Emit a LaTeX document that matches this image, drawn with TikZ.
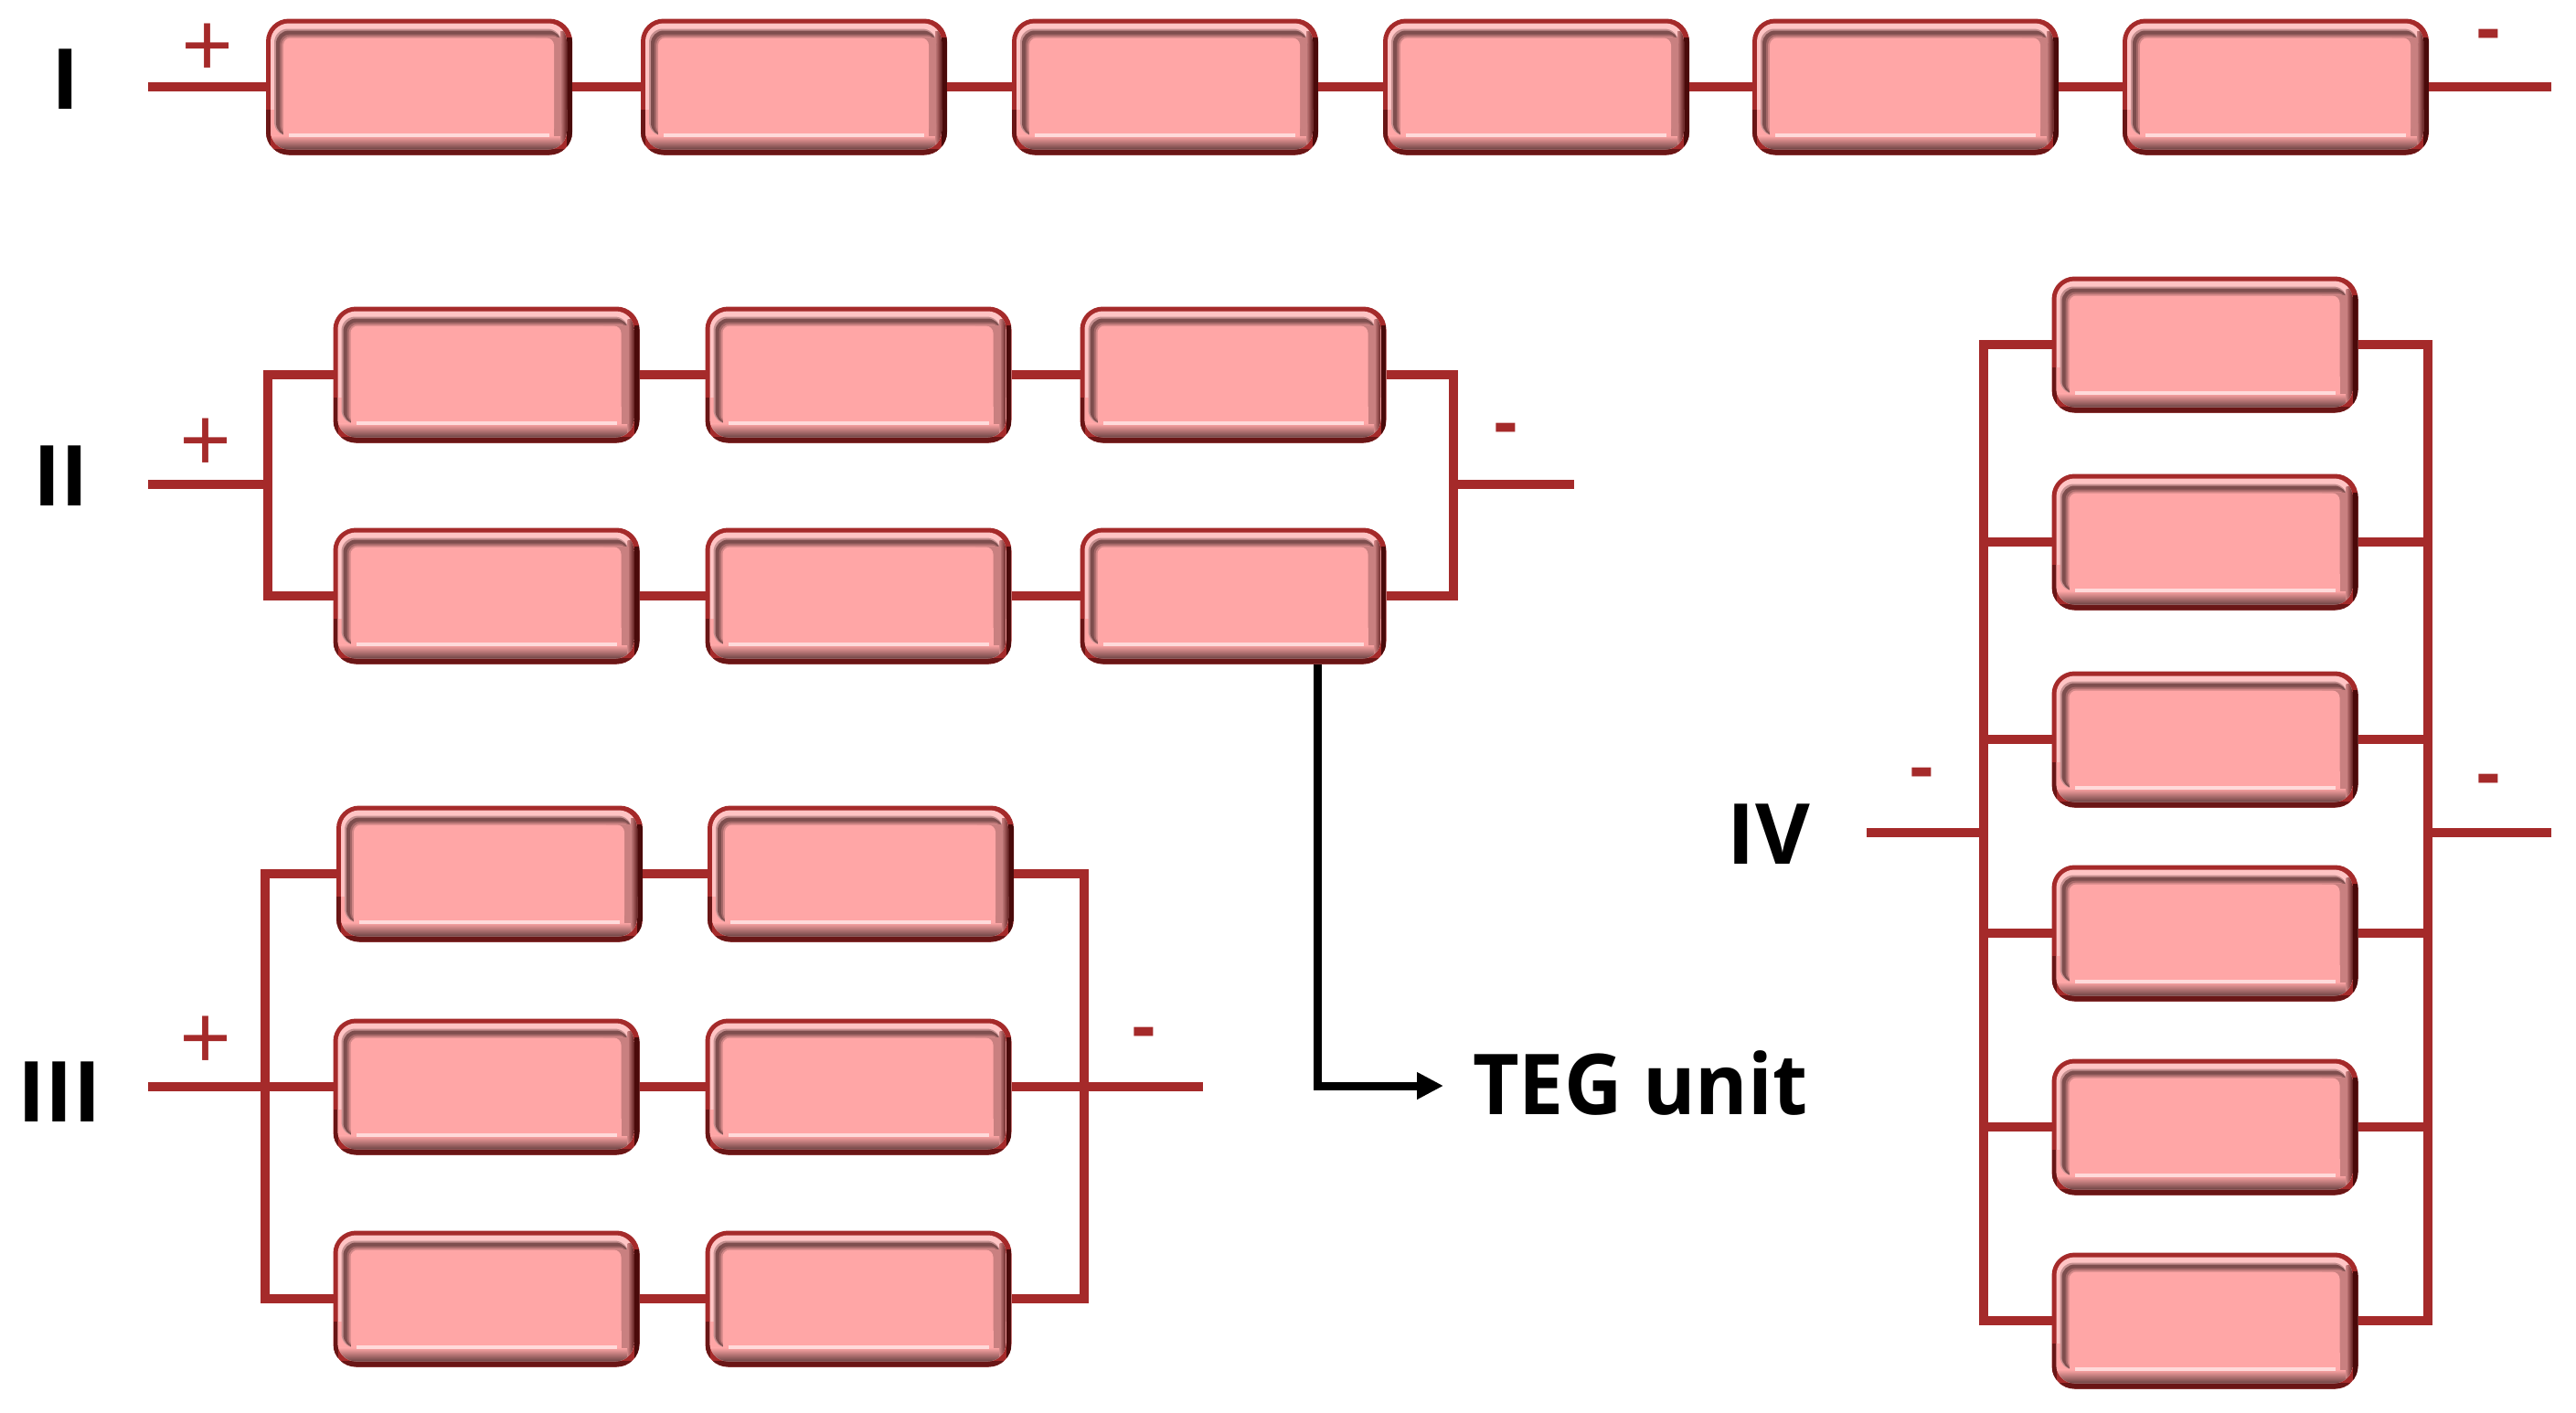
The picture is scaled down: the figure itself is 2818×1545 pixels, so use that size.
\documentclass[tikz,border=0pt]{standalone}
\usepackage{fontspec}
\setmainfont{Open Sans}
\usetikzlibrary{arrows.meta}
\definecolor{wirec}{HTML}{A52A2A}
\definecolor{bodyc}{HTML}{FFA6A6}
\definecolor{ringc}{HTML}{FFC4C4}
\definecolor{darkc}{HTML}{7E4E4E}
\definecolor{sidec}{HTML}{C98080}
\definecolor{hilic}{HTML}{FFDADA}
\definecolor{edgec}{HTML}{4A0A0A}
\definecolor{edged}{HTML}{6A1616}
\newcommand{\tegNW}[2]{([xshift=#1pt,yshift=-#2pt]path picture bounding box.north west)}
\newcommand{\tegSE}[2]{([xshift=-#1pt,yshift=#2pt]path picture bounding box.south east)}
\newcommand{\tegfill}[6]{\fill[#1,rounded corners=#6pt] \tegNW{#2}{#3} rectangle \tegSE{#4}{#5};}
\tikzset{
  tegunit/.style={minimum width=335pt,minimum height=149pt,inner sep=0pt,outer sep=0pt,
    rounded corners=25pt,fill=wirec,path picture={
     \begin{scope}[sharp corners]
      % outer edge: dark on the right and the bottom
      \fill[edged] ([yshift=7pt]path picture bounding box.south west) rectangle (path picture bounding box.south east);
      \fill[edgec] ([xshift=-6pt,yshift=-20pt]path picture bounding box.north east) rectangle (path picture bounding box.south east);
      \fill[edged] ([yshift=50pt]path picture bounding box.south west) rectangle ([xshift=5pt]path picture bounding box.south west);
      % light ring with the shaded lower band and right band, kept inside its rounded outline
      \begin{scope}
        \clip[rounded corners=20pt] \tegNW{5}{5} rectangle \tegSE{6}{6};
        \fill[ringc] \tegNW{0}{0} rectangle \tegSE{0}{0};
        \fill[bodyc] ([yshift=50pt]path picture bounding box.south west) rectangle ([yshift=20pt]path picture bounding box.south east);
        \shade[top color=bodyc,bottom color=darkc!85!black]
          ([yshift=21pt]path picture bounding box.south west) rectangle ([yshift=6pt]path picture bounding box.south east);
        \shade[left color=sidec,right color=edgec!80!sidec]
          ([xshift=-13pt,yshift=-14pt]path picture bounding box.north east) rectangle ([xshift=-6pt]path picture bounding box.south east);
      \end{scope}
      % inner dark line, top and left, softened towards the body
      \tegfill{darkc!45!ringc}{9}{11}{12}{21}{15}
      \tegfill{darkc}{11}{13}{12}{21}{14}
      \tegfill{darkc!70!bodyc}{15}{17}{12}{21}{11}
      \tegfill{darkc!35!bodyc}{17}{19}{12}{21}{10}
      \fill[sidec] ([xshift=-40pt,yshift=-20pt]path picture bounding box.north east) rectangle ([xshift=-12pt,yshift=21pt]path picture bounding box.south east);
      \fill[bodyc] ([xshift=19pt,yshift=40pt]path picture bounding box.south west) rectangle ([xshift=-20pt,yshift=21pt]path picture bounding box.south east);
      \tegfill{bodyc}{19}{21}{20}{21}{8}
      % highlight above the bottom band
      \fill[hilic] ([xshift=25pt,yshift=20pt]path picture bounding box.south west) rectangle ([xshift=-25pt,yshift=24pt]path picture bounding box.south east);
     \end{scope}
    }},
  wire/.style={draw=wirec,line width=10pt},
  lead/.style={draw=black,line width=9pt},
  romanlabel/.style={font=\fontsize{92pt}{92pt}\selectfont\bfseries,text=black,inner sep=0pt},
  sign/.style={font=\fontsize{100pt}{100pt}\selectfont,text=wirec,inner sep=0pt,anchor=base},
  dash sign/.style={font=\fontsize{80pt}{80pt}\selectfont\bfseries,text=wirec,inner sep=0pt,anchor=base},
}
\begin{document}
\begin{tikzpicture}[x=1pt,y=-1pt]
\useasboundingbox (0,0) rectangle (2818,1545);
\fill[white] (0,0) rectangle (2818,1545);
% free ends and buses
\coordinate (s1) at (162,95);
\coordinate (e1) at (2791,95);
\coordinate (s2) at (162,530);
\coordinate (bl2) at (293,530);
\coordinate (br2) at (1590,530);
\coordinate (e2) at (1722,530);
\coordinate (s3) at (162,1189);
\coordinate (bl3) at (290,1189);
\coordinate (br3) at (1186,1189);
\coordinate (e3) at (1316,1189);
\coordinate (s4) at (2042,911);
\coordinate (bl4) at (2170,911);
\coordinate (br4) at (2656,911);
\coordinate (e4) at (2791,911);
\node[tegunit] (a1) at (458.5,95) {};
\node[tegunit] (a2) at (868.5,95) {};
\node[tegunit] (a3) at (1274.5,95) {};
\node[tegunit] (a4) at (1680.5,95) {};
\node[tegunit] (a5) at (2084.5,95) {};
\node[tegunit] (a6) at (2489.5,95) {};
\node[tegunit] (b1) at (532,410) {};
\node[tegunit] (b2) at (939,410) {};
\node[tegunit] (b3) at (1349,410) {};
\node[tegunit] (b4) at (532,652) {};
\node[tegunit] (b5) at (939,652) {};
\node[tegunit] (b6) at (1349,652) {};
\node[tegunit] (c1) at (535.5,956) {};
\node[tegunit] (c2) at (941.5,956) {};
\node[tegunit] (c3) at (532,1189) {};
\node[tegunit] (c4) at (939,1189) {};
\node[tegunit] (c5) at (532,1421) {};
\node[tegunit] (c6) at (939,1421) {};
\node[tegunit] (d1) at (2412,377) {};
\node[tegunit] (d2) at (2412,593) {};
\node[tegunit] (d3) at (2412,809) {};
\node[tegunit] (d4) at (2412,1021) {};
\node[tegunit] (d5) at (2412,1233) {};
\node[tegunit] (d6) at (2412,1445) {};
% I
\draw[wire] (s1) -- (a1.west);
\draw[wire] (a1) -- (a2);
\draw[wire] (a2) -- (a3);
\draw[wire] (a3) -- (a4);
\draw[wire] (a4) -- (a5);
\draw[wire] (a5) -- (a6);
\draw[wire] (a6.east) -- (e1);
% II
\draw[wire] (s2) -- (bl2);
\draw[wire] (b1.west) -| (bl2) |- (b4.west);
\draw[wire] (b1) -- (b2);
\draw[wire] (b2) -- (b3);
\draw[wire] (b4) -- (b5);
\draw[wire] (b5) -- (b6);
\draw[wire] (b3.east) -| (br2) |- (b6.east);
\draw[wire] (br2) -- (e2);
% III
\draw[wire] (s3) -- (c3.west);
\draw[wire] (c1.west) -| (bl3) |- (c5.west);
\draw[wire] (c1) -- (c2);
\draw[wire] (c3) -- (c4);
\draw[wire] (c5) -- (c6);
\draw[wire] (c2.east) -| (br3) |- (c6.east);
\draw[wire] (c4.east) -- (e3);
% IV
\draw[wire] (s4) -- (bl4);
\draw[wire] (br4) -- (e4);
\draw[wire] (d1.west) -| (bl4) |- (d6.west);
\draw[wire] (d1.east) -| (br4) |- (d6.east);
\draw[wire] (d2.west) -- (d2.west -| bl4);
\draw[wire] (d3.west) -- (d3.west -| bl4);
\draw[wire] (d4.west) -- (d4.west -| bl4);
\draw[wire] (d5.west) -- (d5.west -| bl4);
\draw[wire] (d2.east) -- (d2.east -| br4);
\draw[wire] (d3.east) -- (d3.east -| br4);
\draw[wire] (d4.east) -- (d4.east -| br4);
\draw[wire] (d5.east) -- (d5.east -| br4);
% labels
\node[romanlabel] (l1) at (72,87) {I};
\node[romanlabel] (l2) at (67,521) {II};
\node[romanlabel] (l3) at (65,1195) {III};
\node[romanlabel] (l4) at (1935,913) {IV};
\node[sign] (p1) at (227,85) {+};
\node[sign] (p2) at (225,517) {+};
\node[sign] (p3) at (225,1171) {+};
\node[dash sign] (m1) at (2722,58) {-};
\node[dash sign] (m2) at (1647,489) {-};
\node[dash sign] (m3) at (1251,1150) {-};
\node[dash sign] (m4) at (2102,866) {-};
\node[dash sign] (m5) at (2722,873) {-};
% TEG unit
\node[font=\fontsize{92pt}{92pt}\selectfont\bfseries,text=black,inner sep=0pt,anchor=west,xscale=0.953] (teg) at (1611,1185) {TEG unit};
\coordinate (tap) at ([xshift=92pt]b6.south);
\coordinate (tip) at (1579,1188);
\draw[lead,-{Triangle[length=29pt,width=28pt]}] (tap) |- (tip);
\end{tikzpicture}
\end{document}
